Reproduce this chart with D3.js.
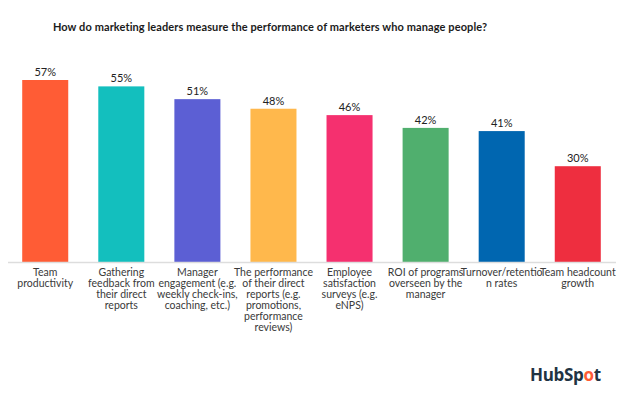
<!DOCTYPE html>
<html>
<head>
<meta charset="utf-8">
<script src="https://cdn.jsdelivr.net/npm/d3@7"></script>
<style>
  body { margin: 0; background: #fff; }
  svg { display: block; font-family: "Lato", "Open Sans", sans-serif; }
  .value { font-size: 11px; fill: #222; }
  .cat { font-size: 10.5px; fill: #3a3a3a; }
  .title { font-size: 11px; font-weight: 700; fill: #1b1b1b; letter-spacing: 0.1px; }
</style>
</head>
<body>
<svg id="chart" width="623" height="398"></svg>
<script>
const categories = [
  ["Team", "productivity"],
  ["Gathering", "feedback from", "their direct", "reports"],
  ["Manager", "engagement (e.g.", "weekly check-ins,", "coaching, etc.)"],
  ["The performance", "of their direct", "reports (e.g.", "promotions,", "performance", "reviews)"],
  ["Employee", "satisfaction", "surveys (e.g.", "eNPS)"],
  ["ROI of programs", "overseen by the", "manager"],
  ["Turnover/retentio", "n rates"],
  ["Team headcount", "growth"]
];
const values = [57, 55, 51, 48, 46, 42, 41, 30];
const colors = ["#FF5C35", "#13BFBE", "#5C5FD4", "#FFB84C", "#F5306F", "#50AF6E", "#0066B0", "#EE2E3F"];

const svg = d3.select("#chart");
const baseY = 262;

const x = d3.scaleBand()
    .domain(d3.range(values.length))
    .range([7, 616])
    .paddingInner(0.395)
    .paddingOuter(0.2);

const y = d3.scaleLinear()
    .domain([0, 57])
    .range([baseY, 80]);

svg.append("text")
    .classed("title", true)
    .attr("x", 270)
    .attr("y", 31)
    .attr("text-anchor", "middle")
    .text("How do marketing leaders measure the performance of marketers who manage people?");

svg.selectAll("rect.bar")
    .data(values)
    .join("rect")
    .classed("bar", true)
    .attr("x", (d, i) => x(i))
    .attr("width", x.bandwidth())
    .attr("y", d => y(d))
    .attr("height", d => baseY - y(d))
    .attr("fill", (d, i) => colors[i]);

// baseline
svg.append("line")
    .attr("x1", 8).attr("x2", 616)
    .attr("y1", baseY + 0.5).attr("y2", baseY + 0.5)
    .attr("stroke", "#ddd")
    .attr("stroke-width", 1.5);

svg.selectAll("text.value")
    .data(values)
    .join("text")
    .classed("value", true)
    .attr("x", (d, i) => x(i) + x.bandwidth() / 2)
    .attr("y", d => y(d) - 4)
    .attr("text-anchor", "middle")
    .text(d => d + "%");

svg.selectAll("text.cat")
    .data(categories)
    .join("text")
    .classed("cat", true)
    .attr("text-anchor", "middle")
    .attr("transform", (d, i) => `translate(${x(i) + x.bandwidth() / 2}, ${baseY + 14})`)
    .selectAll("tspan")
    .data(d => d)
    .join("tspan")
    .attr("x", 0)
    .attr("y", (d, i) => i * 11)
    .text(d => d);

// HubSpot logo as text
const logo = svg.append("text")
    .attr("x", 530)
    .attr("y", 381)
    .style("font-family", "'Open Sans', sans-serif")
    .style("font-size", "17px")
    .style("font-weight", 700)
    .style("letter-spacing", "-0.3px")
    .attr("fill", "#213343");
logo.append("tspan").text("HubSp");
logo.append("tspan").attr("fill", "#FF5C35").text("o");
logo.append("tspan").text("t");
</script>
</body>
</html>
